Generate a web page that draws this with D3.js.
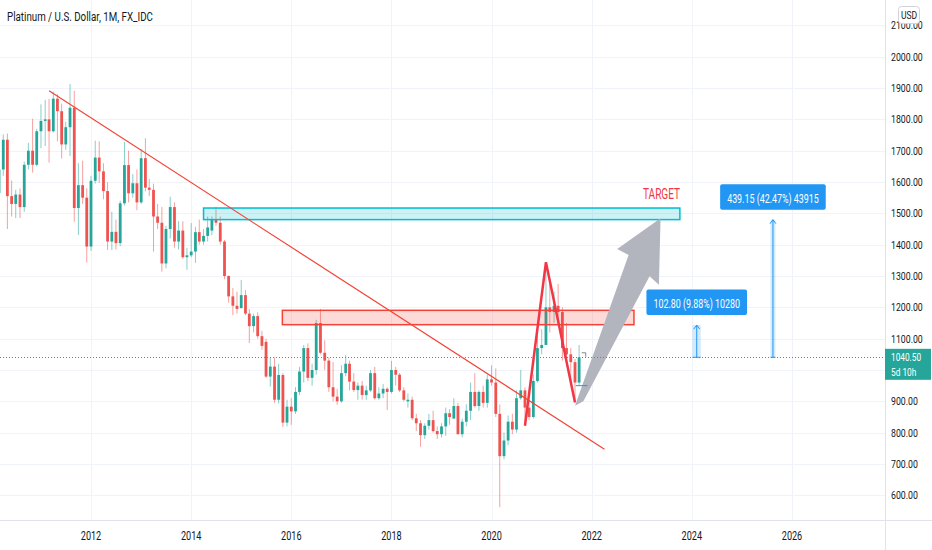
<!DOCTYPE html>
<html>
<head>
<meta charset="utf-8">
<script src="https://cdn.jsdelivr.net/npm/d3@7"></script>
<style>
html, body { margin: 0; padding: 0; background: #fff; }
svg { display: block; }
text { font-family: "Roboto", "Liberation Sans", sans-serif; }
</style>
</head>
<body>
<script>
// monthly candles, Mar 2010 .. Oct 2021
var firstMonth = '2010-03';
var lastMonth = '2021-10';

var open = [
  1565, 1640, 1735, 1555, 1530, 1560, 1520, 1655, 1700, 1655,            // 2010
  1762, 1795, 1800, 1762, 1866, 1826, 1720, 1775, 1837, 1517, 1590, 1550, // 2011
  1394, 1604, 1678, 1634, 1571, 1410, 1441, 1405, 1532, 1654, 1564, 1596, // 2012
  1535, 1676, 1582, 1575, 1490, 1470, 1340, 1450, 1520, 1410, 1445, 1360, // 2013
  1366, 1378, 1440, 1410, 1428, 1445, 1482, 1470, 1410, 1300, 1235, 1205, // 2014
  1198, 1239, 1180, 1140, 1172, 1108, 1090, 979, 1011, 905, 984, 832,     // 2015
  883, 868, 930, 995, 1070, 975, 1000, 1150, 1055, 1030, 945, 915,        // 2016
  900, 990, 1020, 963, 936, 950, 920, 935, 990, 910, 925, 940,            // 2017
  930, 1000, 985, 935, 900, 905, 846, 830, 792, 822, 840, 805,            // 2018
  795, 820, 862, 845, 885, 795, 835, 870, 930, 885, 930, 895,             // 2019
  970, 960, 860, 725, 775, 835, 810, 910, 935, 880, 850, 965,             // 2020
  1070, 1080, 1200, 1185, 1205, 1185, 1070, 1050, 1025, 960               // 2021
];
var high = [
  1660, 1752, 1755, 1605, 1575, 1580, 1665, 1725, 1802, 1770,
  1848, 1862, 1865, 1888, 1880, 1850, 1792, 1913, 1891, 1660, 1668, 1580,
  1620, 1732, 1730, 1660, 1600, 1505, 1480, 1540, 1728, 1700, 1625, 1640,
  1705, 1740, 1610, 1595, 1530, 1520, 1460, 1553, 1535, 1475, 1475, 1390,
  1469, 1457, 1480, 1450, 1490, 1490, 1521, 1490, 1415, 1302, 1262, 1250,
  1287, 1255, 1195, 1180, 1184, 1125, 1100, 1040, 1040, 1020, 990, 905,
  910, 945, 1010, 1080, 1085, 1020, 1160, 1195, 1095, 1040, 1026, 940,
  1015, 1048, 1030, 990, 960, 965, 950, 1000, 1010, 945, 955, 945,
  1029, 1010, 990, 945, 925, 915, 860, 840, 830, 860, 870, 820,
  830, 880, 875, 910, 895, 845, 890, 960, 990, 935, 950, 985,
  1015, 1005, 890, 800, 855, 860, 935, 1000, 945, 900, 985, 1110,
  1130, 1339, 1290, 1250, 1275, 1200, 1150, 1070, 1035, 1080
];
var low = [
  1545, 1620, 1450, 1490, 1485, 1485, 1505, 1640, 1630, 1650,
  1708, 1715, 1662, 1758, 1730, 1675, 1703, 1683, 1473, 1431, 1530, 1343,
  1380, 1595, 1597, 1545, 1383, 1383, 1385, 1395, 1525, 1535, 1550, 1510,
  1530, 1570, 1555, 1378, 1450, 1314, 1325, 1420, 1390, 1385, 1355, 1320,
  1360, 1342, 1400, 1400, 1410, 1430, 1460, 1400, 1290, 1215, 1175, 1180,
  1195, 1175, 1086, 1120, 1100, 1065, 975, 947, 895, 893, 818, 820,
  825, 860, 920, 960, 965, 950, 985, 1050, 1000, 930, 900, 889,
  895, 980, 935, 930, 905, 905, 905, 930, 905, 905, 910, 872,
  925, 950, 930, 900, 880, 840, 805, 755, 780, 810, 800, 780,
  785, 790, 825, 845, 795, 785, 820, 840, 880, 870, 880, 880,
  950, 850, 562, 715, 760, 795, 800, 905, 835, 840, 845, 960,
  1050, 1080, 1120, 1150, 1150, 1030, 1040, 955, 900, 952
];
var close = [
  1640, 1735, 1555, 1530, 1560, 1520, 1655, 1700, 1655, 1762,
  1795, 1800, 1762, 1866, 1826, 1720, 1775, 1837, 1517, 1590, 1550, 1394,
  1604, 1678, 1634, 1571, 1410, 1441, 1405, 1532, 1654, 1564, 1596, 1535,
  1676, 1582, 1575, 1490, 1470, 1340, 1450, 1520, 1410, 1445, 1360, 1366,
  1378, 1440, 1410, 1428, 1455, 1482, 1470, 1410, 1300, 1235, 1205, 1195,
  1239, 1180, 1140, 1172, 1108, 1077, 979, 1011, 905, 984, 832, 883,
  868, 930, 995, 1070, 975, 1000, 1150, 1055, 1030, 945, 915, 900,
  990, 1020, 963, 936, 950, 920, 935, 990, 910, 925, 940, 930,
  1000, 985, 935, 905, 905, 846, 830, 792, 822, 840, 805, 795,
  820, 862, 850, 885, 795, 835, 870, 930, 885, 930, 895, 970,
  960, 860, 725, 775, 835, 810, 910, 935, 880, 850, 965, 1070,
  1080, 1200, 1185, 1205, 1185, 1070, 1050, 1025, 960, 1040.5
];

var priceTicks = [600, 700, 800, 900, 1000, 1100, 1200, 1300, 1400, 1500, 1600, 1700, 1800, 1900, 2000, 2100];
var yearTicks = ['2012', '2014', '2016', '2018', '2020', '2022', '2024', '2026'];

// drawings on the chart, as [date, price]
var trendLine = [['2011-03-01', 1891], ['2022-04-04', 747]];
var zigzag = [['2020-09-01', 822], ['2021-02-01', 1344], ['2021-09-01', 896]];
var targetZone = [['2014-04-01', 1517], ['2023-10-06', 1480]];
var resistZone = [['2015-10-28', 1190.5], ['2022-11-05', 1144.6]];
var bigArrow = [
  ['2021-09-01', 886], ['2022-09-27', 1367], ['2022-07-06', 1386], ['2023-05-18', 1484],
  ['2023-05-06', 1272], ['2023-02-27', 1299], ['2021-11-01', 900]
];
var lastPrice = 1040.5;
var moves = [
  { from: '2024-01-06', to: '2024-03-06', mid: '2024-02-06', target: 1143.3, label: '102.80 (9.88%) 10280' },
  { from: '2025-07-28', to: '2025-09-02', mid: '2025-08-15', target: 1479.65, label: '439.15 (42.47%) 43915' }
];

var W = 932, H = 550, plotR = 885, plotB = 520;
var up = '#26a69a', down = '#ef5350';
var parseDay = d3.timeParse('%Y-%m-%d');
var parseMonth = d3.timeParse('%Y-%m');

var x = d3.scaleTime().domain([new Date(2012, 0, 1), new Date(2026, 0, 1)]).range([91, 792]);
var y = d3.scaleLinear().domain([1000, 2000]).range([370, 56.7]);

function px(p) {
  // * date/price pair to screen point
  return [x(parseDay(p[0])), y(p[1])];
}
function squeeze(sel, k) {
  // * narrows each text to the condensed look of the reference
  sel.each(function () {
    var w = this.getComputedTextLength();
    d3.select(this).attr('textLength', w * k).attr('lengthAdjust', 'spacingAndGlyphs');
  });
  return sel;
}

var months = d3.timeMonth.range(parseMonth(firstMonth), d3.timeMonth.offset(parseMonth(lastMonth), 1));
var candles = months.map(function (d, i) {
  return { date: d, o: open[i], h: high[i], l: low[i], c: close[i] };
});

var svg = d3.select('body').append('svg').attr('width', W).attr('height', H);
svg.append('rect').attr('width', W).attr('height', H).attr('fill', '#fff');
svg.append('defs').append('clipPath').attr('id', 'plot')
   .append('rect').attr('width', plotR).attr('height', plotB);

// grid
var grid = svg.append('g').attr('stroke', '#f0f3fa').attr('stroke-width', 1);
grid.selectAll('.h').data(priceTicks).enter().append('line')
    .attr('x1', 0).attr('x2', plotR)
    .attr('y1', function (d) { return Math.round(y(d)) + 0.5; })
    .attr('y2', function (d) { return Math.round(y(d)) + 0.5; });
grid.selectAll('.v').data(yearTicks).enter().append('line')
    .attr('y1', 0).attr('y2', plotB)
    .attr('x1', function (d) { return Math.round(x(new Date(+d, 0, 1))) + 0.5; })
    .attr('x2', function (d) { return Math.round(x(new Date(+d, 0, 1))) + 0.5; });

var plot = svg.append('g').attr('clip-path', 'url(#plot)');

// candles
var cg = plot.append('g');
var bar = cg.selectAll('g').data(candles).enter().append('g');
bar.append('line')
   .attr('x1', function (d) { return x(d.date); })
   .attr('x2', function (d) { return x(d.date); })
   .attr('y1', function (d) { return y(d.h); })
   .attr('y2', function (d) { return y(d.l); })
   .attr('stroke', function (d) { return d.c >= d.o ? up : down; })
   .attr('stroke-opacity', 0.55)
   .attr('stroke-width', 1);
bar.append('rect')
   .attr('x', function (d) { return x(d.date) - 1.4; })
   .attr('width', 2.8)
   .attr('y', function (d) { return y(Math.max(d.o, d.c)); })
   .attr('height', function (d) { return Math.max(1, Math.abs(y(d.o) - y(d.c))); })
   .attr('fill', function (d) { return d.c >= d.o ? up : down; });

// zones
function zone(z, stroke, fill) {
  var a = px(z[0]), b = px(z[1]);
  plot.append('rect')
      .attr('x', a[0]).attr('y', a[1])
      .attr('width', b[0] - a[0]).attr('height', b[1] - a[1])
      .attr('fill', fill).attr('stroke', stroke).attr('stroke-width', 1.5);
}
zone(targetZone, '#00bcd4', 'rgba(0, 188, 212, 0.2)');
zone(resistZone, '#f44336', 'rgba(244, 67, 54, 0.2)');

// trend line and pattern
plot.append('path')
    .attr('d', d3.line()(trendLine.map(px)))
    .attr('stroke', '#f44336').attr('stroke-width', 1.2).attr('fill', 'none');
plot.append('path')
    .attr('d', d3.line()(zigzag.map(px)))
    .attr('stroke', '#f23645').attr('stroke-width', 2.5).attr('fill', 'none')
    .attr('stroke-linejoin', 'miter');
plot.append('path')
    .attr('d', d3.line()(bigArrow.map(px)) + 'Z')
    .attr('fill', '#b2b5be');

// small marks at the last candle
plot.append('line')
    .attr('x1', x(parseDay('2021-09-07'))).attr('x2', x(parseDay('2021-12-01')))
    .attr('y1', y(950)).attr('y2', y(950))
    .attr('stroke', '#2196f3').attr('stroke-width', 1);
plot.append('path')
    .attr('d', 'M' + x(parseDay('2021-10-20')) + ',' + y(1055) + 'h4v4')
    .attr('fill', 'none').attr('stroke', '#787b86').attr('stroke-width', 0.9);

// last price line
plot.append('line')
    .attr('x1', 0).attr('x2', plotR)
    .attr('y1', Math.round(y(lastPrice)) + 0.5).attr('y2', Math.round(y(lastPrice)) + 0.5)
    .attr('stroke', up).attr('stroke-width', 1).attr('stroke-dasharray', '1,2');

// target text
squeeze(plot.append('text')
    .attr('x', x(parseDay('2023-05-25'))).attr('y', y(1518) - 8.5)
    .attr('text-anchor', 'middle').attr('font-size', 14)
    .attr('fill', '#f23645').text('TARGET'), 0.72);

// price range measures
moves.forEach(function (m) {
  var x0 = x(parseDay(m.from)), x1 = x(parseDay(m.to)), xm = x(parseDay(m.mid));
  var y0 = y(lastPrice), y1 = y(m.target);
  var g = plot.append('g');
  g.append('rect').attr('x', x0).attr('y', y1).attr('width', x1 - x0).attr('height', y0 - y1)
   .attr('fill', 'rgba(33, 150, 243, 0.2)');
  g.append('line').attr('x1', x0).attr('x2', x1).attr('y1', y0).attr('y2', y0)
   .attr('stroke', '#2196f3').attr('stroke-width', 1);
  g.append('line').attr('x1', xm).attr('x2', xm).attr('y1', y0).attr('y2', y1)
   .attr('stroke', '#2196f3').attr('stroke-width', 1);
  g.append('path').attr('d', 'M' + (xm - 3) + ',' + (y1 + 4) + 'L' + xm + ',' + y1 + 'L' + (xm + 3) + ',' + (y1 + 4))
   .attr('stroke', '#2196f3').attr('fill', 'none').attr('stroke-width', 1);
  var t = squeeze(g.append('text').attr('x', xm).attr('y', y1 - 17)
   .attr('text-anchor', 'middle').attr('font-size', 12).attr('fill', '#fff').text(m.label), 0.74);
  var tw = +t.attr('textLength');
  g.insert('rect', 'text')
   .attr('x', xm - tw / 2 - 7).attr('y', y1 - 35.5).attr('width', tw + 14).attr('height', 25.5)
   .attr('rx', 2).attr('fill', '#2196f3');
});

// axes frame
svg.append('line').attr('x1', plotR + 0.5).attr('x2', plotR + 0.5).attr('y1', 0).attr('y2', H)
   .attr('stroke', '#e0e3eb');
svg.append('line').attr('x1', 0).attr('x2', W).attr('y1', plotB + 0.5).attr('y2', plotB + 0.5)
   .attr('stroke', '#e0e3eb');

// price labels (the 1000 one sits under the last price tag)
var ly = y(lastPrice);
squeeze(svg.append('g').selectAll('text')
   .data(priceTicks.filter(function (d) { return Math.abs(y(d) - ly - 6) > 18; }))
   .enter().append('text')
   .attr('x', 891).attr('y', function (d) { return y(d) + 4; })
   .attr('font-size', 11.5).attr('fill', '#131722')
   .text(function (d) { return d3.format('.2f')(d); }), 0.76);

// year labels
squeeze(svg.append('g').selectAll('text').data(yearTicks).enter().append('text')
   .attr('x', function (d) { return x(new Date(+d, 0, 1)); }).attr('y', 539.5)
   .attr('text-anchor', 'middle').attr('font-size', 13).attr('fill', '#131722')
   .text(function (d) { return d; }), 0.7);

// last price tag
svg.append('rect').attr('x', plotR).attr('y', ly - 8.5).attr('width', 46).attr('height', 31)
   .attr('fill', up);
squeeze(svg.append('text').attr('x', 891).attr('y', ly + 4).attr('font-size', 11.5).attr('fill', '#fff')
   .text(d3.format('.2f')(lastPrice)), 0.72);
squeeze(svg.append('text').attr('x', 891).attr('y', ly + 18.5).attr('font-size', 11.5).attr('fill', '#fff')
   .text('5d 10h'), 0.72);

// currency box
svg.append('rect').attr('x', 898.5).attr('y', 6.5).attr('width', 21).attr('height', 17).attr('rx', 3)
   .attr('fill', '#fff').attr('stroke', '#d1d4dc');
squeeze(svg.append('text').attr('x', 909).attr('y', 19).attr('text-anchor', 'middle')
   .attr('font-size', 11.5).attr('fill', '#131722').text('USD'), 0.74);

// title
squeeze(svg.append('text').attr('x', 7).attr('y', 21).attr('font-size', 12.5).attr('fill', '#131722')
   .text('Platinum / U.S. Dollar, 1M, FX_IDC'), 0.78);
</script>
</body>
</html>
